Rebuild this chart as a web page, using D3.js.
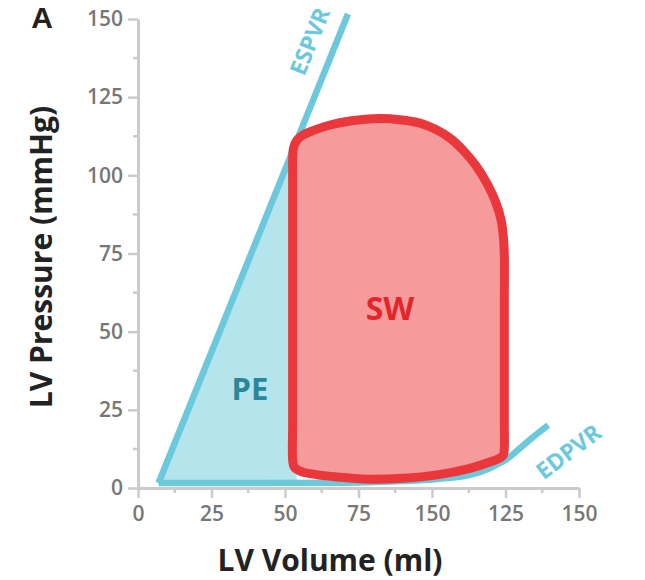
<!DOCTYPE html>
<html>
<head>
<meta charset="utf-8">
<script src="https://cdn.jsdelivr.net/npm/d3@7"></script>
<style>
  html, body { margin: 0; padding: 0; background: #fff; }
  svg { display: block; }
</style>
</head>
<body>
<svg id="chart" width="645" height="580"></svg>
<script>
// ---- Data ----
const xTickValues = [0, 25, 50, 75, 100, 125, 150];
const xTickLabels = ["0", "25", "50", "75", "150", "125", "150"];
const yTickValues = [0, 25, 50, 75, 100, 125, 150];
const yTickLabels = ["0", "25", "50", "75", "100", "125", "150"];

// ESPVR line [volume, pressure]
const espvr = [[7, 1.6], [71.4, 151.6]];
// EDPVR curve [volume, pressure]
const edpvr = [[7, 1.6], [40, 1.6], [70, 1.7], [90, 2.2], [102, 2.9], [113, 4.2],
               [120, 6.5], [126, 9.6], [130, 12.8], [134, 16.0], [139.5, 20.1]];
// Pressure–volume loop [volume, pressure]
const pvLoop = [
  // left edge (upward)
  [52.6, 20], [52.6, 40], [52.6, 60], [52.6, 80], [52.6, 100], [52.6, 104.9],
  // top-left corner and top
  [52.9, 108.7], [54.1, 111.3], [56.1, 112.9], [59.5, 114.3], [65.3, 116.1], [72.1, 117.4],
  [82.3, 118.2], [89.1, 117.8], [95.9, 116.7],
  // upper-right shoulder
  [101.0, 114.8], [106.1, 111.9], [110.5, 108.1], [115.0, 103.0], [119.0, 96.9],
  [121.8, 91.1], [123.5, 85.7], [124.3, 80.0], [124.6, 74.5],
  // right edge (downward)
  [124.6, 60], [124.6, 40], [124.6, 20], [124.6, 13],
  // bottom-right corner and bottom
  [124.3, 10.6], [123.1, 9.6], [119.7, 8.3], [112.9, 6.3], [101.7, 4.2], [90.1, 3.1],
  [78.9, 2.8], [67.7, 3.5], [58.5, 4.6], [55.1, 5.4], [53.1, 6.7], [52.6, 9.0]
];
// PE region (potential energy) [volume, pressure]
const peRegion = [[7, 1.6], [54, 110], [54, 1.6]];

const labels = {
  panel: "A",
  xTitle: "LV Volume (ml)",
  yTitle: "LV Pressure (mmHg)",
  sw: "SW",
  pe: "PE",
  espvr: "ESPVR",
  edpvr: "EDPVR"
};

// ---- Layout ----
const svg = d3.select("#chart");
const x = d3.scaleLinear().domain([0, 150]).range([138, 579]);
const y = d3.scaleLinear().domain([0, 150]).range([488, 19]);

const axisColor = "#cbcbcb";
const tickTextColor = "#777777";
const blue = "#6cc8dc";
const blueFill = "#b4e4ec";
const red = "#ea373b";
const redFill = "#f59b9b";
const font = "'Open Sans', 'Noto Sans', sans-serif";

// ---- Axes ----
const gAxes = svg.append("g");

const xMinor = d3.range(12.5, 150, 25);
const yMinor = d3.range(12.5, 150, 25);

const xAxis = d3.axisBottom(x).tickValues(xTickValues)
  .tickFormat((d, i) => xTickLabels[i]).tickSizeInner(10).tickSizeOuter(0).tickPadding(8);
const gx = gAxes.append("g").attr("transform", `translate(0,${y(0)})`).call(xAxis);
gx.append("g").selectAll("line").data(xMinor).join("line")
  .attr("x1", d => x(d)).attr("x2", d => x(d)).attr("y1", 0).attr("y2", 5);

const yAxis = d3.axisLeft(y).tickValues(yTickValues)
  .tickFormat((d, i) => yTickLabels[i]).tickSizeInner(10).tickSizeOuter(0).tickPadding(5);
const gy = gAxes.append("g").attr("transform", `translate(${x(0)},0)`).call(yAxis);
gy.append("g").selectAll("line").data(yMinor).join("line")
  .attr("x1", 0).attr("x2", -5).attr("y1", d => y(d)).attr("y2", d => y(d));

[gx, gy].forEach(g => {
  g.select(".domain").attr("stroke", axisColor).attr("stroke-width", 3);
  g.selectAll("line").attr("stroke", axisColor).attr("stroke-width", 2.5);
  g.selectAll("text").attr("fill", tickTextColor).attr("font-family", font)
    .attr("font-size", 21).attr("font-weight", 600);
});
gx.selectAll(".tick text").attr("dy", "0.71em");

// ---- Marks ----
svg.append("path").datum(peRegion)
  .attr("d", d3.line().x(d => x(d[0])).y(d => y(d[1])).curve(d3.curveLinearClosed))
  .attr("fill", blueFill).attr("stroke", "none");

svg.append("path").datum(espvr)
  .attr("d", d3.line().x(d => x(d[0])).y(d => y(d[1])))
  .attr("fill", "none").attr("stroke", blue).attr("stroke-width", 6.5);

svg.append("path").datum(edpvr)
  .attr("d", d3.line().x(d => x(d[0])).y(d => y(d[1])).curve(d3.curveMonotoneX))
  .attr("fill", "none").attr("stroke", blue).attr("stroke-width", 6.5);

svg.append("path").datum(pvLoop)
  .attr("d", d3.line().x(d => x(d[0])).y(d => y(d[1])).curve(d3.curveCatmullRomClosed.alpha(0.5)))
  .attr("fill", redFill).attr("stroke", red).attr("stroke-width", 9)
  .attr("stroke-linejoin", "round");

// ---- Labels ----
svg.append("text").text(labels.sw)
  .attr("x", 390).attr("y", 307).attr("text-anchor", "middle").attr("dominant-baseline", "central")
  .attr("font-family", font).attr("font-weight", 700).attr("font-size", 32).attr("fill", "#e3262c");

svg.append("text").text(labels.pe)
  .attr("x", 250).attr("y", 388).attr("text-anchor", "middle").attr("dominant-baseline", "central")
  .attr("font-family", font).attr("font-weight", 700).attr("font-size", 31).attr("fill", "#2b8797");

svg.append("text").text(labels.espvr)
  .attr("transform", "translate(309,41) rotate(-68)")
  .attr("text-anchor", "middle").attr("dominant-baseline", "central")
  .attr("font-family", font).attr("font-weight", 700).attr("font-size", 23).attr("fill", blue);

svg.append("text").text(labels.edpvr)
  .attr("transform", "translate(568,451) rotate(-37)")
  .attr("text-anchor", "middle").attr("dominant-baseline", "central")
  .attr("font-family", font).attr("font-weight", 700).attr("font-size", 23).attr("fill", blue);

svg.append("text").text(labels.panel)
  .attr("x", 42).attr("y", 27.5).attr("text-anchor", "middle")
  .attr("font-family", "'Liberation Sans', Arial, sans-serif").attr("font-weight", 700)
  .attr("font-size", 30).attr("fill", "#222");

svg.append("text").text(labels.xTitle)
  .attr("x", 330).attr("y", 571).attr("text-anchor", "middle")
  .attr("font-family", font).attr("font-weight", 700).attr("font-size", 30).attr("fill", "#222");

svg.append("text").text(labels.yTitle)
  .attr("transform", "translate(52,257) rotate(-90)").attr("text-anchor", "middle")
  .attr("font-family", font).attr("font-weight", 700).attr("font-size", 30).attr("fill", "#222");
</script>
</body>
</html>
